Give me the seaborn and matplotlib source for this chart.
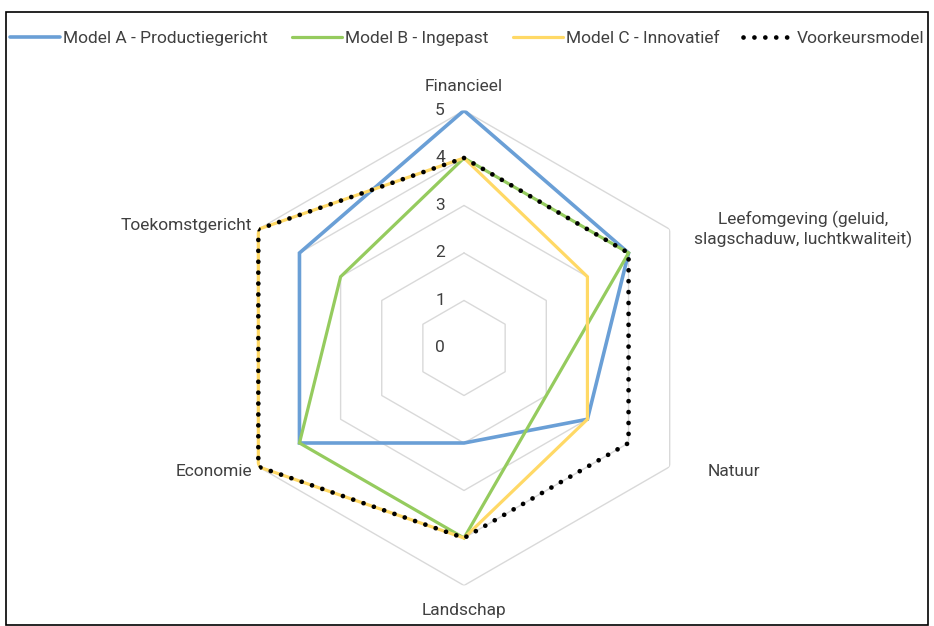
import numpy as np
import pandas as pd
import matplotlib
matplotlib.use("Agg")
import matplotlib.pyplot as plt
from matplotlib.lines import Line2D
from matplotlib.patches import Rectangle
import seaborn as sns

# data
categories = [
    "Financieel",
    "Leefomgeving (geluid,\nslagschaduw, luchtkwaliteit)",
    "Natuur",
    "Landschap",
    "Economie",
    "Toekomstgericht",
]
model_a = [5, 4, 3, 2, 4, 4]
model_b = [4, 4, 2, 4, 4, 3]
model_c = [4, 3, 3, 4, 5, 5]
voorkeur = [4, 4, 4, 4, 5, 5]
series_names = [
    "Model A - Productiegericht",
    "Model B - Ingepast",
    "Model C - Innovatief",
    "Voorkeursmodel",
]
r_ticks = [0, 1, 2, 3, 4, 5]

sns.set_style("white")
plt.rcParams["font.family"] = ["Roboto", "DejaVu Sans"]
text_color = "#404040"
fs = 12.5

n = len(categories)
theta = np.linspace(0, 2 * np.pi, n, endpoint=False)
theta_closed = np.append(theta, 2 * np.pi)

fig = plt.figure(figsize=(9.34, 6.26), dpi=100)
ax = fig.add_axes([0.2425, 0.0647, 0.5086, 0.7588], projection="polar")
ax.set_theta_zero_location("N")
ax.set_theta_direction(-1)
ax.set_ylim(0, 5)
ax.grid(False)
ax.spines["polar"].set_visible(False)
ax.set_xticks([])
ax.set_yticks([])
ax.patch.set_alpha(0)

# hexagonal grid
for lvl in r_ticks[1:]:
    ax.plot(theta_closed, [lvl] * (n + 1), color="#D9D9D9", lw=1.0, zorder=1)

styles = {
    "Model A - Productiegericht": dict(color="#6A9FD6", lw=2.6, ls="-"),
    "Model B - Ingepast": dict(color="#95CB5E", lw=2.3, ls="-"),
    "Model C - Innovatief": dict(color="#FFD966", lw=2.3, ls="-"),
    "Voorkeursmodel": dict(color="black", lw=3.4, ls=(0, (0.01, 2.3))),
}

for name, vals in zip(series_names, [model_a, model_b, model_c, voorkeur]):
    df = pd.DataFrame({"theta": theta_closed, "value": vals + [vals[0]]})
    st = styles[name]
    sns.lineplot(data=df, x="theta", y="value", sort=False, estimator=None,
                 ax=ax, color=st["color"], lw=st["lw"], linestyle=st["ls"],
                 dash_capstyle="round", solid_joinstyle="miter", zorder=3)
ax.set_xlabel("")
ax.set_ylabel("")

# radial tick labels
for v in r_ticks:
    ax.annotate(str(v), xy=(0, v), xytext=(-24, 0), textcoords="offset pixels",
                ha="center", va="center", fontsize=fs, color=text_color,
                annotation_clip=False)

# category labels
label_pos = [
    ((0, 24), "center", "center"),
    ((24, 0), "left", "center"),
    ((38, -5), "left", "center"),
    ((0, -25), "center", "center"),
    ((-6, -5), "right", "center"),
    ((-6, 4), "right", "center"),
]
for t, lab, (off, ha, va) in zip(theta, categories, label_pos):
    ax.annotate(lab, xy=(t, 5), xytext=off, textcoords="offset pixels",
                ha=ha, va=va, fontsize=fs, color=text_color,
                multialignment="center", linespacing=1.15,
                annotation_clip=False)

handles = [
    Line2D([], [], color=styles[nm]["color"], lw=styles[nm]["lw"],
           linestyle=styles[nm]["ls"], dash_capstyle="round")
    for nm in series_names
]
fig.legend(handles, series_names, loc="center", bbox_to_anchor=(0.5, 1 - 38 / 626),
           ncol=4, frameon=False, fontsize=fs, handlelength=2.9,
           handletextpad=0.15, columnspacing=1.4, labelcolor=text_color)

# outer border of the chart area
fig.patches.append(Rectangle((6 / 934, 1 / 626), 922 / 934, 613 / 626,
                             transform=fig.transFigure, fill=False,
                             edgecolor="black", lw=1.2))

fig.savefig("out.png", dpi=100)
